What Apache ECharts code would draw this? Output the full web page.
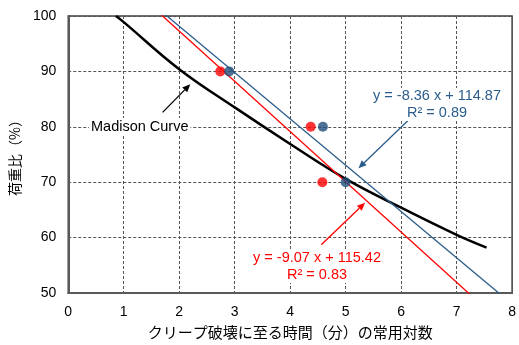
<!DOCTYPE html>
<html>
<head>
<meta charset="utf-8">
<script src="https://cdn.jsdelivr.net/npm/echarts@6/dist/echarts.min.js"></script>
<style>
  html, body { margin: 0; padding: 0; background: #fff; }
  #chart { width: 519px; height: 345px; }
</style>
</head>
<body>
<div id="chart"></div>
<script>
// Measured creep tests: log10 of time to creep failure vs. load ratio (%)
const redX = [2.74, 4.37, 4.58];
const redY = [90, 80, 70];
const blueX = [2.90, 4.59, 5.00];
const blueY = [90, 80, 70];

// Linear fits (slope, intercept, R²)
const redFit = { slope: -9.07, intercept: 115.42, r2: 0.83 };
const blueFit = { slope: -8.36, intercept: 114.87, r2: 0.89 };

// Madison curve reference points
const madisonX = [0.86, 1, 2, 3, 4, 5, 6, 7, 7.54];
const madisonY = [100, 98.9, 90.4, 83.5, 76.9, 70.6, 65.4, 60.5, 58.2];

const xTicks = [0, 1, 2, 3, 4, 5, 6, 7, 8];
const yTicks = [50, 60, 70, 80, 90, 100];

const RED = '#FF0000';
const BLUE = '#2B5D8C';
const BLUE_DOT = '#1F4E79';
const FONT = 'Liberation Sans, Arial, sans-serif';
const CJK = '"Noto Sans CJK JP", sans-serif';

const zip = (xs, ys) => xs.map((x, i) => [x, ys[i]]);
const fitLine = f => [xTicks[0], xTicks[xTicks.length - 1]].map(x => [x, f.slope * x + f.intercept]);
const fmt = f => 'y = ' + f.slope.toFixed(2) + ' x + ' + f.intercept.toFixed(2);

const chart = echarts.init(document.getElementById('chart'));

chart.setOption({
  animation: false,
  grid: {
    left: 64, top: 16, width: 452, height: 280,
    show: true, borderColor: '#404040', borderWidth: 1.5, backgroundColor: 'transparent'
  },
  xAxis: {
    type: 'value', min: 0, max: 8, interval: 1,
    axisLine: { show: true, lineStyle: { color: '#595959', width: 2 } },
    axisTick: { show: false },
    axisLabel: { color: '#000', fontSize: 14, fontFamily: FONT, margin: 12 },
    splitLine: { show: true, lineStyle: { color: '#555', type: [3, 2], width: 1 } },
    name: 'クリープ破壊に至る時間（分）の常用対数',
    nameLocation: 'middle', nameGap: 32,
    nameTextStyle: { color: '#000', fontSize: 15, fontFamily: CJK }
  },
  yAxis: {
    type: 'value', min: 50, max: 100, interval: 10,
    axisLine: { show: true, lineStyle: { color: '#595959', width: 2 } },
    axisTick: { show: false },
    axisLabel: { color: '#000', fontSize: 14, fontFamily: FONT, margin: 12 },
    splitLine: { show: true, lineStyle: { color: '#555', type: [3, 2], width: 1 } },
    name: '荷重比（%）',
    nameLocation: 'middle', nameGap: 29,
    nameTextStyle: { color: '#000', fontSize: 14, fontFamily: CJK }
  },
  series: [
    {
      type: 'line', data: zip(madisonX, madisonY), smooth: 0.4,
      showSymbol: false, lineStyle: { color: '#000', width: 2.5 }, z: 3
    },
    {
      type: 'line', data: fitLine(blueFit), showSymbol: false, clip: true,
      lineStyle: { color: BLUE, width: 1.3 }, z: 3
    },
    {
      type: 'line', data: fitLine(redFit), showSymbol: false, clip: true,
      lineStyle: { color: RED, width: 1.3 }, z: 3
    },
    {
      type: 'scatter', data: zip(redX, redY), symbolSize: 10,
      itemStyle: { color: RED }, z: 4
    },
    {
      type: 'scatter', data: zip(blueX, blueY), symbolSize: 10,
      itemStyle: { color: BLUE_DOT }, z: 4
    }
  ]
});

// Callout arrows, given in data coordinates (tail -> head)
const arrows = [
  { from: [1.70, 82.6], to: [2.20, 87.7], color: '#000' },
  { from: [6.12, 81.1], to: [5.23, 72.5], color: BLUE },
  { from: [4.56, 58.7], to: [5.35, 66.3], color: RED }
];

function arrowGraphics(a) {
  const p0 = chart.convertToPixel({ gridIndex: 0 }, a.from);
  const p1 = chart.convertToPixel({ gridIndex: 0 }, a.to);
  const dx = p1[0] - p0[0], dy = p1[1] - p0[1];
  const len = Math.hypot(dx, dy);
  const ux = dx / len, uy = dy / len;
  const headLen = 8, headHalf = 3.5;
  const bx = p1[0] - ux * headLen, by = p1[1] - uy * headLen;
  return [
    {
      type: 'line', z: 9, silent: true,
      shape: { x1: p0[0], y1: p0[1], x2: bx, y2: by },
      style: { stroke: a.color, lineWidth: 1.3 }
    },
    {
      type: 'polygon', z: 9, silent: true,
      shape: { points: [p1, [bx - uy * headHalf, by + ux * headHalf], [bx + uy * headHalf, by - ux * headHalf]] },
      style: { fill: a.color }
    }
  ];
}

const labels = [
  {
    type: 'text', left: 89, top: 118, z: 10,
    style: {
      text: 'Madison Curve', fill: '#000', font: '14.5px ' + FONT,
      backgroundColor: '#fff', padding: [1, 2]
    }
  },
  {
    type: 'text', x: 437, y: 88, z: 10,
    style: {
      text: fmt(blueFit) + '\nR² = ' + blueFit.r2.toFixed(2),
      fill: BLUE, font: '14.5px ' + FONT, align: 'center', lineHeight: 16.5,
      backgroundColor: '#fff', padding: [0, 3]
    }
  },
  {
    type: 'text', x: 317, y: 250, z: 10,
    style: {
      text: fmt(redFit) + '\nR² = ' + redFit.r2.toFixed(2),
      fill: RED, font: '14.5px ' + FONT, align: 'center', lineHeight: 16.5,
      backgroundColor: '#fff', padding: [0, 3]
    }
  }
];

chart.setOption({ graphic: labels.concat(...arrows.map(arrowGraphics)) });
</script>
</body>
</html>
